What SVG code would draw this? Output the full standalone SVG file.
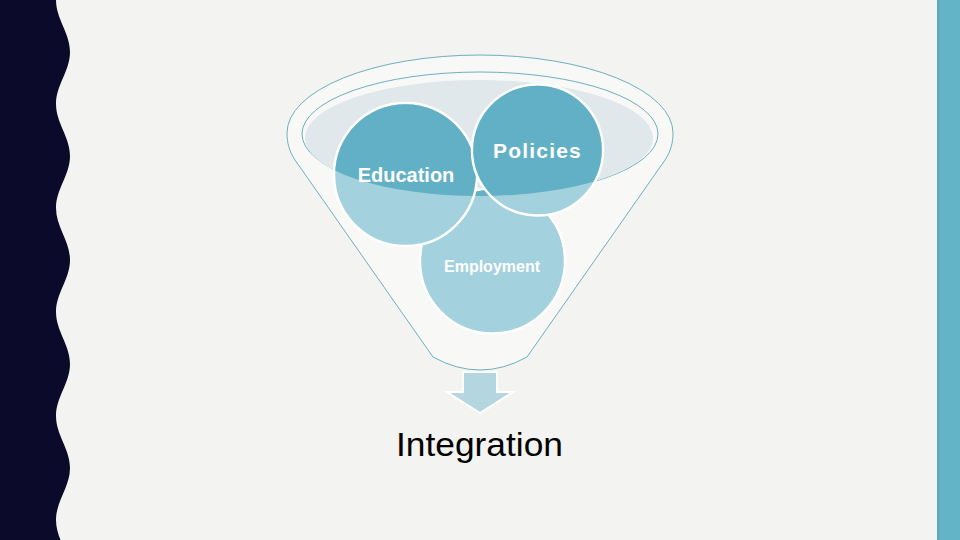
<svg xmlns="http://www.w3.org/2000/svg" width="960" height="540" viewBox="0 0 960 540">
<style>
.bg{fill:#F3F3F1}
.wave{fill:#0B0A2A}
.stripe{fill:#64B4C8}
.outline{fill:none;stroke:#6EAFC0;stroke-width:1}
.light{fill:#A3D1DE;stroke:#FFFFFF;stroke-width:2.5}
.dark{fill:#62B0C5}
.lbl{font-family:"Liberation Sans",Arial,sans-serif;fill:#FFFFFF;font-weight:bold;text-anchor:middle}
.big{font-family:"Liberation Sans",Arial,sans-serif;fill:#000000;text-anchor:middle}
</style>
<defs>
<clipPath id="bowl"><ellipse cx="479" cy="138" rx="174" ry="58"/></clipPath>
</defs>
<rect class="bg" x="0" y="0" width="960" height="540"/>
<path class="wave" d="M0,0 L56,0 C56,19 70,33 70,52 C70,71 56,85 56,104 C56,123 70,137 70,156 C70,175 56,189 56,208 C56,227 70,241 70,260 C70,279 56,293 56,312 C56,331 70,345 70,364 C70,383 56,397 56,416 C56,435 70,449 70,468 C70,487 56,501 56,520 C56,539 70,553 70,572 L0,572 Z"/>
<rect class="stripe" x="937" y="0" width="23" height="540"/>
<rect x="937" y="0" width="2.5" height="540" fill="#5BA9BC"/>
<g id="funnel">
<path d="M433,357 L295,160 C289,151 287,142 287,133 A193,78 0 0 1 673,133 C673,142 671,151 665,160 L527,357 Q480,383 433,357 Z" fill="#F8F8F7" stroke="#6EAFC0" stroke-width="1"/>
<ellipse class="outline" cx="480" cy="134" rx="178" ry="62"/>
<ellipse cx="479" cy="138" rx="174" ry="58" fill="#E0E8EB"/>
</g>
<g id="employment">
<circle class="light" cx="492.5" cy="261" r="72.5"/>
<circle class="dark" cx="492.5" cy="261" r="71.3" clip-path="url(#bowl)"/>
<text class="lbl" x="492" y="272" font-size="16">Employment</text>
</g>
<g id="education">
<circle class="light" cx="405.5" cy="174.5" r="71.5"/>
<circle class="dark" cx="405.5" cy="174.5" r="70.3" clip-path="url(#bowl)"/>
<text class="lbl" x="406" y="182" font-size="20">Education</text>
</g>
<g id="policies">
<circle class="light" cx="537.5" cy="150" r="65.5"/>
<circle class="dark" cx="537.5" cy="150" r="64.3" clip-path="url(#bowl)"/>
<text class="lbl" x="537.5" y="158" font-size="21" letter-spacing="1.2">Policies</text>
</g>
<g id="connectors">
<path d="M463,372 L497,372 L497,392 L513,392 L480,413 L447,392 L463,392 Z" fill="#B3D6E1" stroke="#FFFFFF" stroke-width="2" stroke-linejoin="miter"/>
</g>
<g id="integration">
<text class="big" x="479.5" y="456" font-size="34" textLength="167" lengthAdjust="spacingAndGlyphs">Integration</text>
</g>
</svg>
